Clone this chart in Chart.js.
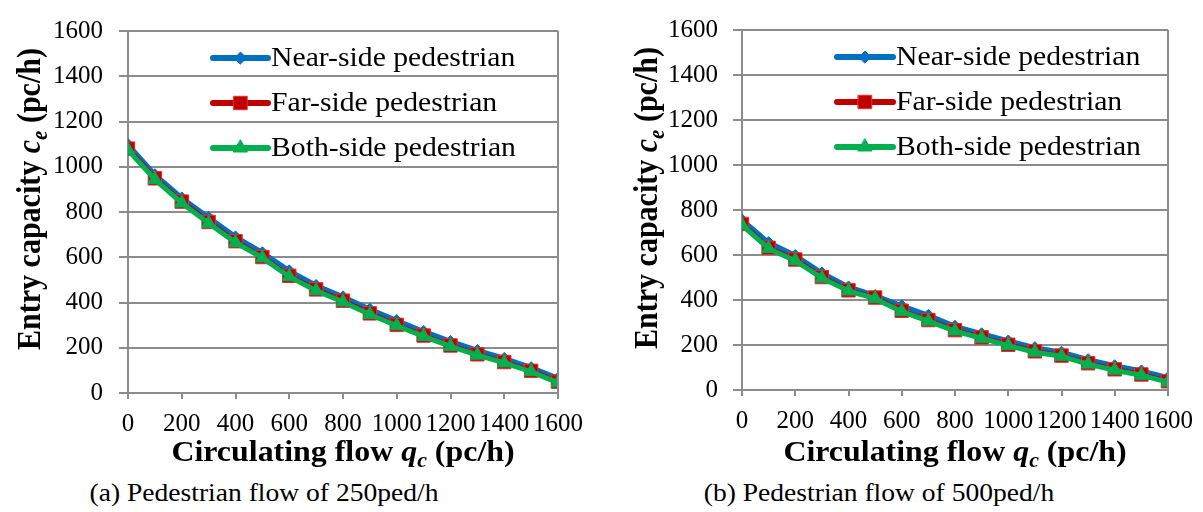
<!DOCTYPE html>
<html>
<head>
<meta charset="utf-8">
<title>Entry capacity vs circulating flow</title>
<script src="https://cdn.jsdelivr.net/npm/chart.js@4.4.1/dist/chart.umd.min.js"></script>
<style>
    html, body { margin: 0; padding: 0; background: #fff; }
    body { width: 1203px; height: 512px; position: relative; overflow: hidden; font-family: 'Liberation Serif', 'Times New Roman', serif; }
    .panel { position: absolute; top: 0; height: 470px; }
    #panelA { left: 0; width: 600px; }
    #panelB { left: 600px; width: 603px; }
    .caption { position: absolute; top: 476px; width: 420px; text-align: center; font-size: 26px; line-height: 34px; white-space: nowrap; color: #000; transform: scaleX(1.06); }
</style>
</head>
<body>
<div class="panel" id="panelA"><canvas class="js-chart-a"></canvas></div>
<div class="panel" id="panelB"><canvas class="js-chart-b"></canvas></div>
<div class="caption" style="left: 54px;">(a) Pedestrian flow of 250ped/h</div>
<div class="caption" style="left: 669px;">(b) Pedestrian flow of 500ped/h</div>

<script>
'use strict';

// circulating flow q_c (pc/h), one point every 100
const flows = [0, 100, 200, 300, 400, 500, 600, 700, 800, 900, 1000, 1100, 1200, 1300, 1400, 1500, 1600];
const seriesNames = ['Near-side pedestrian', 'Far-side pedestrian', 'Both-side pedestrian'];

// (a) pedestrian flow 250 ped/h
const nearSideA = [1098, 965, 862, 776, 690, 620, 540, 475, 425, 370, 320, 272, 228, 188, 153, 112, 65];
const farSideA  = [1080, 949, 846, 756, 671, 601, 518, 458, 408, 352, 301, 254, 210, 171, 137, 98, 50];
const bothSideA = [1074, 944, 840, 750, 665, 597, 514, 452, 402, 347, 297, 250, 206, 167, 133, 94, 45];

// (b) pedestrian flow 500 ped/h
const nearSideB = [756, 655, 598, 520, 458, 420, 374, 332, 283, 250, 218, 188, 168, 135, 108, 85, 55];
const farSideB  = [738, 632, 580, 502, 443, 411, 352, 311, 266, 234, 201, 172, 153, 119, 92, 69, 39];
const bothSideB = [733, 628, 575, 497, 440, 406, 348, 306, 262, 230, 197, 168, 150, 115, 88, 65, 35];

// axis range / tick step (both axes)
const axisMax = 1600;
const tickStep = 200;

const FONT = "'Liberation Serif', 'Times New Roman', serif";
const GRID = '#8c8c8c';
const STRETCH = 1.1; // the original figure is a little wider than tall

const styles = [
    { color: '#0070C0', border: '#0070C0', pointStyle: 'rectRot', radius: 6, order: 3 },
    { color: '#C00000', border: '#E03030', pointStyle: 'rect', radius: 9.5, order: 2 },
    { color: '#00B050', border: '#00B050', pointStyle: 'triangle', radius: 8, order: 1 }
];

// draws a line of text made of pieces in different fonts, centred on (cx, cy)
const richText = function(ctx, parts, cx, cy, angle, sx, sy) {
    ctx.save();
    ctx.translate(cx, cy);
    ctx.rotate(angle);
    ctx.scale(sx, sy);
    ctx.fillStyle = '#000';
    ctx.textBaseline = 'alphabetic';
    let total = 0;
    for (const p of parts) {
        ctx.font = p.font;
        total += ctx.measureText(p.text).width;
    }
    let x = -total / 2;
    for (const p of parts) {
        ctx.font = p.font;
        ctx.fillText(p.text, x, p.dy);
        x += ctx.measureText(p.text).width;
    }
    ctx.restore();
};

const xTitle = [
    { text: 'Circulating flow ', font: `bold 29px ${FONT}`, dy: 10 },
    { text: 'q', font: `italic bold 29px ${FONT}`, dy: 10 },
    { text: 'c', font: `italic bold 20px ${FONT}`, dy: 16 },
    { text: ' (pc/h)', font: `bold 29px ${FONT}`, dy: 10 }
];
const yTitle = [
    { text: 'Entry capacity ', font: `bold 30px ${FONT}`, dy: 10 },
    { text: 'c', font: `italic bold 30px ${FONT}`, dy: 10 },
    { text: 'e', font: `italic bold 21px ${FONT}`, dy: 16 },
    { text: ' (pc/h)', font: `bold 30px ${FONT}`, dy: 10 }
];

// titles, plot border and the in-plot legend
const decorPlugin = {
    id: 'decor',
    afterDraw(chart) {
        const ctx = chart.ctx;
        const area = chart.chartArea;
        const cfg = chart.options.plugins.decor;

        ctx.save();
        ctx.strokeStyle = GRID;
        ctx.lineWidth = 2;
        ctx.beginPath();
        ctx.moveTo(area.right, area.top);
        ctx.lineTo(area.right, area.bottom);
        ctx.stroke();
        ctx.restore();

        richText(ctx, xTitle, (area.left + area.right) / 2, cfg.xTitleY, 0, STRETCH, 1);
        richText(ctx, yTitle, cfg.yTitleX, cfg.yTitleY, -Math.PI / 2, 1, STRETCH);

        chart.data.datasets.forEach((ds, i) => {
            const y = cfg.legendTop + i * cfg.legendGap;
            const x0 = area.left + cfg.legendLeft;
            ctx.save();
            ctx.strokeStyle = ds.borderColor;
            ctx.lineWidth = 6;
            ctx.lineCap = 'round';
            ctx.beginPath();
            ctx.moveTo(x0, y);
            ctx.lineTo(x0 + cfg.legendLen, y);
            ctx.stroke();
            ctx.fillStyle = ds.pointBackgroundColor;
            ctx.strokeStyle = ds.pointBorderColor;
            ctx.lineWidth = 1;
            Chart.helpers.drawPoint(ctx, { pointStyle: ds.pointStyle, radius: ds.pointRadius, borderWidth: 1, rotation: 0 }, x0 + cfg.legendLen / 2, y);
            ctx.translate(x0 + cfg.legendLen + 3, y + 1);
            ctx.scale(STRETCH, 1);
            ctx.fillStyle = '#000';
            ctx.font = `27px ${FONT}`;
            ctx.textBaseline = 'middle';
            ctx.textAlign = 'left';
            ctx.fillText(ds.label, 0, 0);
            ctx.restore();
        });
    }
};

const makeChart = function(selector, values, layout) {
    const canvas = document.querySelector(selector);
    const datasets = values.map((arr, i) => ({
        label: seriesNames[i],
        data: flows.map((q, k) => ({ x: q, y: arr[k] })),
        borderColor: styles[i].color,
        backgroundColor: styles[i].color,
        pointBackgroundColor: styles[i].color,
        pointBorderColor: styles[i].border,
        pointBorderWidth: 1,
        pointStyle: styles[i].pointStyle,
        pointRadius: styles[i].radius,
        borderWidth: 5,
        tension: 0,
        order: styles[i].order
    }));

    return new Chart(canvas, {
        type: 'line',
        data: { datasets: datasets },
        plugins: [decorPlugin],
        options: {
            responsive: true,
            maintainAspectRatio: false,
            animation: false,
            layout: { padding: { left: 0, right: layout.padRight, top: 28, bottom: 0 } },
            plugins: {
                legend: { display: false },
                tooltip: { enabled: false },
                decor: layout
            },
            scales: {
                x: {
                    type: 'linear',
                    min: 0,
                    max: axisMax,
                    afterFit: (scale) => { scale.height = layout.xHeight; },
                    ticks: {
                        stepSize: tickStep,
                        autoSkip: false,
                        maxRotation: 0,
                        padding: 10,
                        color: '#000',
                        font: { family: FONT, size: 25 },
                        callback: (v) => String(v)
                    },
                    grid: { drawOnChartArea: false, drawTicks: true, tickLength: 6, color: GRID, lineWidth: 2 },
                    border: { color: GRID, width: 2 }
                },
                y: {
                    min: 0,
                    max: axisMax,
                    afterFit: (scale) => { scale.width = layout.yWidth; },
                    ticks: {
                        stepSize: tickStep,
                        padding: layout.yPad,
                        color: '#000',
                        font: { family: FONT, size: 25 },
                        callback: (v) => String(v)
                    },
                    grid: { color: GRID, lineWidth: 2, drawTicks: true, tickLength: 9 },
                    border: { color: GRID, width: 2 }
                }
            }
        }
    });
};

document.addEventListener('DOMContentLoaded', function() {
    makeChart('.js-chart-a', [nearSideA, farSideA, bothSideA], {
        yWidth: 128, padRight: 42, xHeight: 77, yPad: 16,
        xTitleY: 451, yTitleX: 29, yTitleY: 199,
        legendLeft: 85, legendLen: 55, legendTop: 58, legendGap: 45
    });
    makeChart('.js-chart-b', [nearSideB, farSideB, bothSideB], {
        yWidth: 142, padRight: 26, xHeight: 80, yPad: 15,
        xTitleY: 451, yTitleX: 46, yTitleY: 198,
        legendLeft: 95, legendLen: 56, legendTop: 57, legendGap: 45
    });
});
</script>
</body>
</html>
